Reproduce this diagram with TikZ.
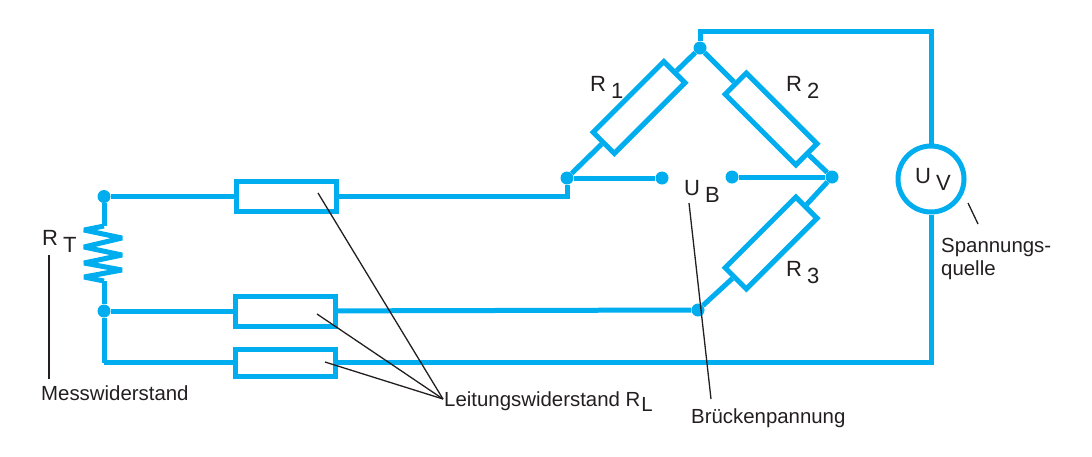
\documentclass[tikz,border=0pt]{standalone}
\usepackage{fontspec}
\setmainfont{Liberation Sans}
\usetikzlibrary{positioning}
\definecolor{wireblue}{HTML}{00AEEF}
\definecolor{inktext}{HTML}{231F20}
\newcommand{\symb}[2]{#1\hspace{5pt}\raisebox{-7pt}{#2}}
\tikzset{
  wire/.style={draw=wireblue,line width=5pt},
  res/.style={draw=wireblue,line width=5pt,fill=white,minimum width=100pt,minimum height=30pt,inner sep=0pt},
  dot/.style={circle,fill=wireblue,minimum size=13pt,inner sep=0pt},
  pointer/.style={draw=inktext,line width=1.3pt},
  lbl/.style={text=inktext,font=\fontsize{20.4}{24}\selectfont,inner sep=0pt},
  symlbl/.style={text=inktext,font=\fontsize{22}{26}\selectfont,inner sep=0pt}
}
\begin{document}
\begin{tikzpicture}[x=1pt,y=-1pt]
   \useasboundingbox (0,0) rectangle (1092,456);
   % bridge
   \node[dot] (t) at (700,48) {};
   \node[dot] (l) at (567,178) {};
   \node[dot] (r) at (832,177) {};
   \node[dot] (b) at (698,310) {};
   \node[dot] (ol) at (662,178) {};
   \node[dot] (or) at (732,177) {};
   \node[res,rotate=45] (R1) at (639,107.5) {};
   \node[res,rotate=-45] (R2) at (771,119) {};
   \node[res,rotate=45] (R3) at (771,243) {};
   % leads
   \node[dot] (j1) at (104,196.5) {};
   \node[dot] (j2) at (104,311) {};
   \node[res] (Ra) at (286.5,196.5) {};
   \node[res] (Rb) at (285,311) {};
   \node[res,minimum height=27pt] (Rc) at (285,362.5) {};
   \coordinate (j3) at (104,362.5);
   % source
   \node[circle,draw=wireblue,line width=5pt,fill=white,minimum size=66pt,inner sep=0pt] (uv) at (931,179) {};
   \coordinate (c1) at (931,31);
   % sensor
   \coordinate (s0) at (104,226);
   \coordinate (s1) at (84,230);
   \coordinate (s2) at (122,238);
   \coordinate (s3) at (84,247);
   \coordinate (s4) at (122,255);
   \coordinate (s5) at (84,263);
   \coordinate (s6) at (122,270);
   \coordinate (s7) at (84,277);
   \coordinate (s8) at (104,281);
   \path[wire]
    (j1) edge (s0)
    (j2) edge (s8)
    (j1) edge (Ra)
    (j2) edge (Rb)
    (j2) edge (j3)
    (j3) edge (Rc)
    (Rb) edge (b)
    (l) edge (R1)
    (R1) edge (t)
    (t) edge (R2)
    (R2) edge (r)
    (r) edge (R3)
    (R3) edge (b)
    (l) edge (ol)
    (r) edge (or);
   \draw[wire] (Ra) -| (l);
   \draw[wire,line join=miter] (t) |- (c1) -- (uv);
   \draw[wire] (uv) |- (Rc);
   \draw[wire,line join=bevel] (s0) -- (s1) -- (s2) -- (s3) -- (s4) -- (s5) -- (s6) -- (s7) -- (s8);
   % labels
   \node[symlbl,anchor=base west] (nR1) at (590,91) {\symb{R}{1}};
   \node[symlbl,anchor=base west] (nR2) at (786,91) {\symb{R}{2}};
   \node[symlbl,anchor=base west] (nR3) at (786,276) {\symb{R}{3}};
   \node[symlbl,anchor=base west] (nRT) at (42,245) {\symb{R}{T}};
   \node[symlbl,anchor=base west] (nUB) at (684,195) {\symb{U}{B}};
   \node[symlbl,anchor=base west] (nUV) at (915,183) {\symb{U}{V}};
   \node[lbl,anchor=base west] (mess) at (41,400) {Messwiderstand};
   \node[lbl,anchor=base west] (leit) at (444,406) {Leitungswiderstand R\hspace{1pt}\raisebox{-5pt}{L}};
   \node[lbl,anchor=base west] (brue) at (691,423) {Brückenpannung};
   \node[lbl,anchor=base west] (span) at (941,252) {Spannungs-};
   \node[lbl] (quel) [below=4pt of span.south west,anchor=north west] {quelle};
   % pointers
   \coordinate (pa) at (318,193);
   \coordinate (pb) at (317,314);
   \coordinate (pc) at (325,362);
   \coordinate (pl) at (443,399);
   \coordinate (pm) at (49,255);
   \coordinate (pm2) at (49,379);
   \coordinate (pu) at (689,203);
   \coordinate (pu2) at (711,399);
   \coordinate (pv) at (968,203);
   \coordinate (pv2) at (978,224);
   \path[pointer]
    (pa) edge (pl)
    (pb) edge (pl)
    (pc) edge (pl)
    (pm) edge (pm2)
    (pu) edge (pu2)
    (pv) edge (pv2);
\end{tikzpicture}
\end{document}
